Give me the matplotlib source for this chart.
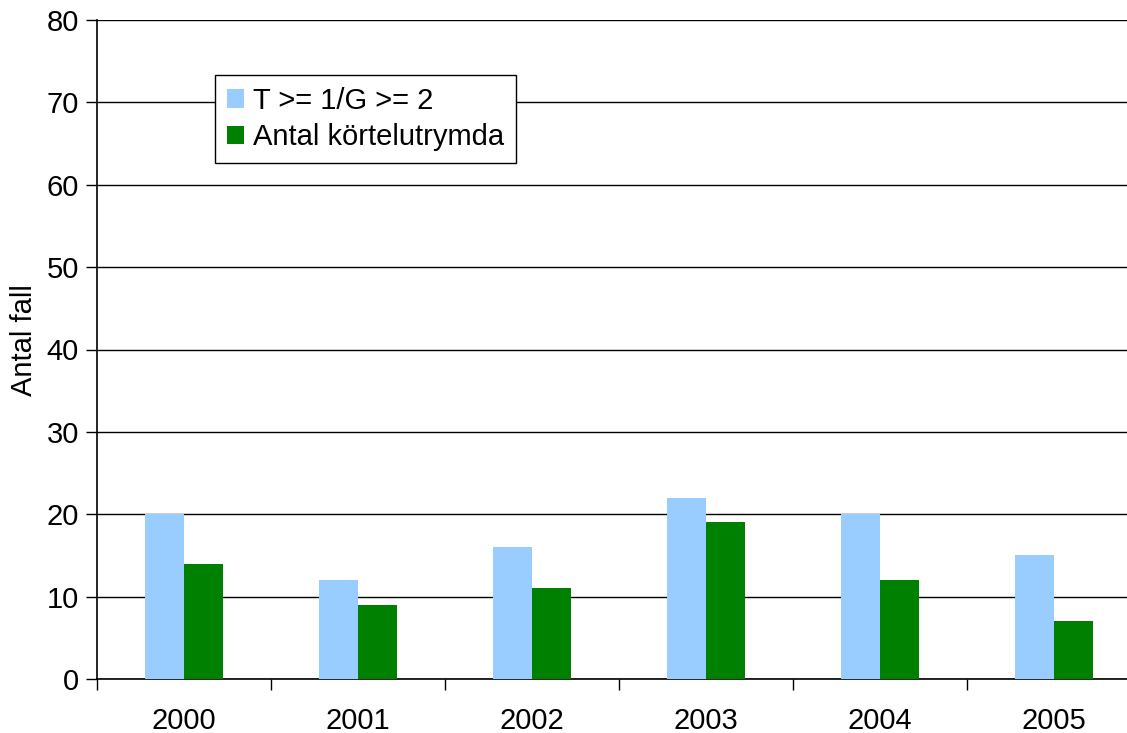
import matplotlib.pyplot as plt
import numpy as np

plt.rcParams['font.family'] = ['Liberation Sans', 'DejaVu Sans']

years = ['2000', '2001', '2002', '2003', '2004', '2005']
t_g = [20, 12, 16, 22, 20, 15]
kortel = [14, 9, 11, 19, 12, 7]

fig = plt.figure(figsize=(11.27, 7.33), dpi=100)
# plot area runs a bit past the right edge of the image, as in the original
ax = fig.add_axes([97 / 1127, 1 - 679 / 733, 1044 / 1127, 659 / 733])

x = np.arange(len(years))
w = 0.225
ax.bar(x - w / 2, t_g, w, color='#99ccff', label='T >= 1/G >= 2', zorder=3)
ax.bar(x + w / 2, kortel, w, color='#008000', label='Antal körtelutrymda', zorder=3)

ax.set_xlim(-0.5, len(years) - 0.5)
ax.set_ylim(0, 80)
ax.set_yticks(range(0, 81, 10))
ax.yaxis.grid(True, color='black', linewidth=1, zorder=0)

# category labels centred, ticks at category boundaries
ax.set_xticks(x)
ax.set_xticklabels(years)
ax.set_xticks(np.arange(len(years)) - 0.5, minor=True)
ax.tick_params(axis='x', which='major', length=0, pad=20, labelsize=21)
ax.tick_params(axis='x', which='minor', length=8, width=1)
ax.tick_params(axis='y', length=8, width=1, labelsize=21, pad=5)

for s in ['top', 'right']:
    ax.spines[s].set_visible(False)
ax.spines['left'].set_linewidth(1.2)
ax.spines['bottom'].set_linewidth(1.2)

fig.text(24 / 1127, 1 - 340 / 733, 'Antal fall', rotation=90, fontsize=21,
         ha='center', va='center')

leg = ax.legend(loc='upper left', bbox_to_anchor=(215 / 1127, 1 - 75 / 733),
                bbox_transform=fig.transFigure, fontsize=21, frameon=True,
                fancybox=False, edgecolor='black', framealpha=1,
                handlelength=0.6, handleheight=0.6, handletextpad=0.3,
                borderpad=0.4, labelspacing=0.3, borderaxespad=0)
leg.get_frame().set_linewidth(1)

fig.savefig('out.png', dpi=100)
